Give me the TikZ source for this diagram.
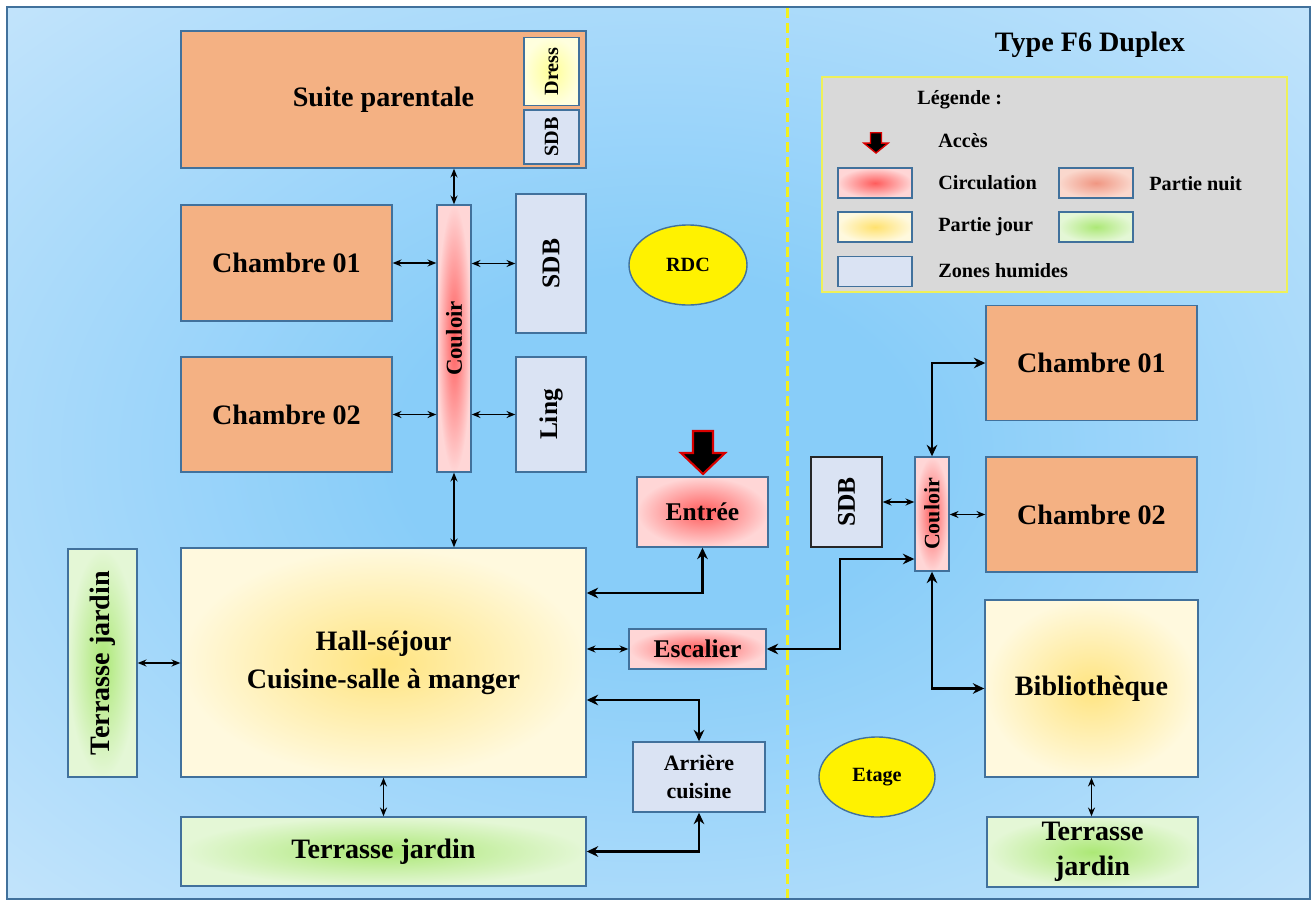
\documentclass[tikz,border=0pt]{standalone}
\usepackage{fontspec}
\setmainfont{Liberation Serif}
\usepackage{graphicx}
\usetikzlibrary{arrows.meta,shapes.geometric}

\definecolor{cadre}{RGB}{65,113,156}
\definecolor{orangech}{RGB}{244,177,131}
\definecolor{humide}{RGB}{218,227,243}
\definecolor{fondin}{RGB}{136,205,249}
\definecolor{fondout}{RGB}{218,237,252}
\definecolor{legris}{RGB}{217,217,217}
\definecolor{lejaune}{RGB}{238,240,90}
\definecolor{pointille}{RGB}{242,240,30}

\pgfdeclareradialshading{fond}{\pgfpoint{0bp}{0bp}}{color(0bp)=(fondin); color(10bp)=(fondin); color(46bp)=(fondout); color(75bp)=(fondout)}

\tikzset{pics/acces/.style={code={
  \filldraw[draw=red!85!black, line width=#1, fill=black]
    (0,0) -- (-22,-21) -- (-10,-21) -- (-10,-43) -- (10,-43) -- (10,-21) -- (22,-21) -- cycle;
}}}

\begin{document}
\begin{tikzpicture}[x=0.02cm, y=-0.02cm,
    taille/.style 2 args={minimum width=#1*0.02cm, minimum height=#2*0.02cm},
    every node/.style={inner sep=0pt, font=\bfseries},
    piece/.style={draw=cadre, line width=0.8pt, align=center},
    grand/.style={font=\bfseries\fontsize{16}{20}\selectfont},
    moyen/.style={font=\bfseries\fontsize{14.5}{17}\selectfont},
    petit/.style={font=\bfseries\fontsize{11.5}{14}\selectfont},
    nuit/.style={piece, fill=orangech},
    eau/.style={piece, fill=humide},
    circ/.style={piece, inner color={rgb,255:red,255;green,92;blue,92}, outer color={rgb,255:red,255;green,214;blue,214}},
    jour/.style={piece, inner color={rgb,255:red,255;green,228;blue,128}, outer color={rgb,255:red,255;green,249;blue,222}},
    vert/.style={piece, inner color={rgb,255:red,172;green,232;blue,118}, outer color={rgb,255:red,228;green,247;blue,214}},
    repere/.style={ellipse, draw=cadre, line width=0.8pt, fill=yellow, petit},
    lien/.style={{Stealth[length=5pt,width=4pt]}-{Stealth[length=5pt,width=4pt]}, line width=0.7pt},
    liengras/.style={{Stealth[length=6.5pt,width=6pt]}-{Stealth[length=6.5pt,width=6pt]}, line width=1.5pt}]

  \useasboundingbox (0,0) rectangle (1316,906);
  \draw[cadre, line width=0.8pt, shading=fond] (7,7) rectangle (1310,899);
  \draw[pointille, line width=1.7pt, dash pattern=on 5.5pt off 3pt] (787,8) -- (787,898);

  % RDC
  \node[nuit, grand, taille={405}{137}] (suite) at (383.5,99.5) {Suite parentale};
  \node[piece, inner color={rgb,255:red,255;green,255;blue,150}, outer color={rgb,255:red,255;green,255;blue,222}, taille={55}{68}, font=\bfseries\fontsize{11.5}{13}\selectfont] (dress) at (551.5,71.5) {\rotatebox{90}{Dress}};
  \node[eau, taille={55}{54}, font=\bfseries\fontsize{11.5}{13}\selectfont] (sdbs) at (551.5,137) {\rotatebox{90}{SDB}};
  \node[circ, taille={34}{267}, font=\bfseries\fontsize{13}{15}\selectfont] (coul) at (454,338.5) {\rotatebox{90}{Couloir}};
  \node[eau, moyen, taille={70}{139}] (sdb) at (551,263.5) {\rotatebox{90}{SDB}};
  \node[eau, moyen, taille={70}{115}] (ling) at (551,414.5) {\rotatebox{90}{Ling}};
  \node[nuit, grand, taille={211}{116}] (ch1) at (286.5,263) {Chambre 01};
  \node[nuit, grand, taille={211}{115}] (ch2) at (286.5,414.5) {Chambre 02};
  \node[jour, font=\bfseries\fontsize{16}{21.5}\selectfont, taille={405}{229}] (hall) at (383.5,662.5) {Hall-séjour\\Cuisine-salle à manger};
  \node[vert, grand, taille={69}{228}] (terrg) at (102.5,663) {\rotatebox{90}{Terrasse jardin}};
  \node[vert, grand, taille={405}{69}] (terrb) at (383.5,851.5) {Terrasse jardin};
  \node[circ, moyen, taille={131}{70}] (entree) at (702.5,512) {Entrée};
  \node[circ, moyen, taille={137}{40}] (esc) at (697.5,649) {Escalier};
  \node[eau, font=\bfseries\fontsize{12.5}{16}\selectfont, taille={132}{70}] (arr) at (699,777) {Arrière\\cuisine};
  \node[repere, taille={118}{80}] (rdc) at (688,265) {RDC};
  \pic at (703,474) {acces=1.2pt};

  % Etage
  \node[piece, draw=black!85, fill=humide, moyen, taille={71}{90}] (sdbe) at (846.5,502) {\rotatebox{90}{SDB}};
  \node[circ, font=\bfseries\fontsize{12.5}{14}\selectfont, taille={34}{114}] (coule) at (932,514) {\rotatebox{90}{Couloir}};
  \node[nuit, grand, taille={211}{115}] (ch1e) at (1091.5,363) {Chambre 01};
  \node[nuit, grand, taille={211}{115}] (ch2e) at (1091.5,514.5) {Chambre 02};
  \node[jour, grand, taille={213}{177}] (biblio) at (1091.5,688.5) {Bibliothèque};
  \node[vert, font=\bfseries\fontsize{16}{20}\selectfont, taille={211}{70}] (terre) at (1092.5,852) {Terrasse\\jardin};
  \node[repere, taille={116}{80}] (etage) at (877,777) {Etage};

  % legende
  \node[grand] (titre) at (1090,45) {Type F6 Duplex};
  \node[draw=lejaune, line width=1.5pt, fill=legris, taille={465}{215}] (leg) at (1054.5,184.5) {};
  \node[petit, anchor=west] (legt) at (917,100) {Légende :};
  \pic[xscale=0.55, yscale=0.47] at (876,153) {acces=0.8pt};
  \node[petit, anchor=west] (lacc) at (938,141) {Accès};
  \node[circ, taille={74}{30}] (lcirc) at (875,183) {};
  \node[piece, inner color={rgb,255:red,240;green,150;blue,130}, outer color={rgb,255:red,250;green,216;blue,205}, taille={74}{30}] (lnuit) at (1096,183) {};
  \node[jour, inner color={rgb,255:red,255;green,225;blue,110}, taille={74}{30}] (ljour) at (875,227) {};
  \node[vert, taille={74}{30}] (lvert) at (1096,227) {};
  \node[eau, taille={74}{30}] (lhum) at (875,271.5) {};
  \node[petit, anchor=west] at (938,183) {Circulation};
  \node[petit, anchor=west] at (1149,184) {Partie nuit};
  \node[petit, anchor=west] at (938,227) {Partie jour};
  \node[petit, anchor=west] at (938,271) {Zones humides};

  % liaisons RDC
  \coordinate (yent) at (0,593);
  \coordinate (yarr) at (0,700);
  \coordinate (xesc) at (840,559);
  \draw[lien] (coul.north) -- (coul.north |- suite.south);
  \draw[lien] (ch1.east) -- (ch1.east -| coul.west);
  \draw[lien] (sdb.west) -- (sdb.west -| coul.east);
  \draw[lien] (ch2.east) -- (ch2.east -| coul.west);
  \draw[lien] (ling.west) -- (ling.west -| coul.east);
  \draw[lien] (coul.south) -- (coul.south |- hall.north);
  \draw[lien] (terrg.east) -- (terrg.east -| hall.west);
  \draw[lien] (hall.south) -- (terrb.north);
  \draw[lien] (esc.west) -- (esc.west -| hall.east);
  \draw[liengras] (entree.south) |- (hall.east |- yent);
  \draw[liengras] (arr.north) |- (hall.east |- yarr);
  \draw[liengras] (arr.south) |- (terrb.east);
  \draw[liengras] (esc.east) -| (xesc) -- (xesc -| coule.west);

  % liaisons etage
  \draw[lien] (sdbe.east) -- (sdbe.east -| coule.west);
  \draw[lien] (ch2e.west) -- (ch2e.west -| coule.east);
  \draw[liengras] (coule.north) |- (ch1e.west);
  \draw[liengras] (coule.south) |- (biblio.west);
  \draw[lien] (biblio.south) -- (biblio.south |- terre.north);
\end{tikzpicture}
\end{document}
